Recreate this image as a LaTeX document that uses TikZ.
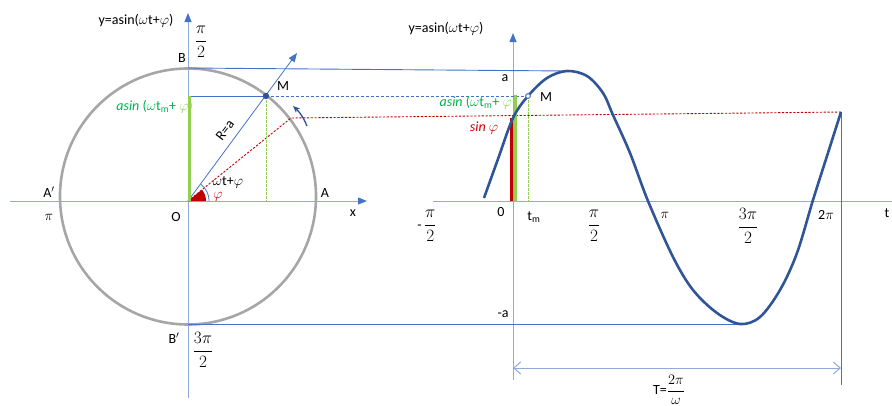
\documentclass[tikz,border=0pt]{standalone}
\usepackage{fontspec}
\setmainfont{Carlito}
\usetikzlibrary{arrows.meta}
\definecolor{axisblue}{HTML}{8FAADC}
\definecolor{lineblue}{HTML}{4472C4}
\definecolor{curveblue}{HTML}{2F5597}
\definecolor{circgray}{HTML}{A6A6A6}
\definecolor{darkred}{HTML}{C00000}
\definecolor{grtext}{HTML}{00B050}
\definecolor{ltgreen}{HTML}{92D050}
\newcommand{\bigfrac}[2]{{\fontsize{16}{18}\selectfont$\displaystyle\frac{#1}{#2}$}}
\begin{document}
\begin{tikzpicture}[x=1pt,y=-1pt,font=\fontsize{14}{16}\selectfont,
  axisline/.style={axisblue,line width=1pt},
  axisarrow/.style={-{Triangle[length=9pt,width=7pt,color=lineblue]}},
  thinblue/.style={lineblue,line width=0.9pt},
  reddash/.style={darkred,line width=0.9pt,dash pattern=on 2.2pt off 1.6pt},
  greendash/.style={ltgreen,line width=0.8pt,dash pattern=on 2.5pt off 1.5pt},
  lbl/.style={inner sep=0pt}]
\useasboundingbox (0,0) rectangle (892,405);
% ---------- key coordinates ----------
\coordinate (O) at (188,201);
\coordinate (Ytop) at (188,13);
\coordinate (Ybot) at (188,398);
\coordinate (Xl) at (10,201);
\coordinate (Xr) at (367,201);
\coordinate (B) at (188,68);
\coordinate (Bp) at (188,324);
\coordinate (M) at (266,96);
\coordinate (My) at (188,96);
\coordinate (Mx) at (266,201);
\coordinate (Rtip) at (297,53);
\coordinate (P) at (291,118);
\coordinate (O2) at (513,201);
\coordinate (Y2top) at (513,33);
\coordinate (Y2bot) at (513,380);
\coordinate (T2l) at (433,201);
\coordinate (T2r) at (892,201);
\coordinate (Peak) at (567,71);
\coordinate (Trough) at (740,324);
\coordinate (End) at (841,112);
\coordinate (EndBot) at (841,385);
\coordinate (M2) at (528,96);
\coordinate (M2x) at (528,202);
\coordinate (DimL) at (513,368);
\coordinate (DimR) at (841,368);
% ---------- axes ----------
\draw[axisline,axisarrow] (Ybot) -- (Ytop);
\draw[axisline,axisarrow] (Xl) -- (Xr);
\draw[axisline,axisarrow] (Y2bot) -- (Y2top);
\draw[axisline] (T2l) -- (T2r);
% ---------- circle ----------
\draw[circgray,line width=2.6pt] (188,196.5) circle[radius=128];
% ---------- projection lines ----------
\draw[thinblue] (B) -- (Peak);
\draw[lineblue,line width=0.8pt] (Bp) -- (Trough);
\draw[thinblue] (My) -- (M);
\draw[thinblue,dash pattern=on 3pt off 2pt] (M) -- (M2);
\draw[reddash] (O) -- (P) -- (End);
\draw[greendash] (M) -- (Mx);
\draw[greendash] (M2) -- (M2x);
\draw[lineblue,line width=0.8pt] (End) -- (EndBot);
% radius
\draw[lineblue,line width=0.8pt,-{Triangle[length=9pt,width=7pt]}] (O) -- (Rtip);
% angles
\fill[darkred] (O) -- plot[domain=0:39,samples=20] ({188+18*cos(\x)},{201-18*sin(\x)}) -- cycle;
\draw[lineblue,line width=0.8pt] plot[domain=0:53,samples=20] ({188+21*cos(\x)},{201-21*sin(\x)});
% rotation arrow
\draw[curveblue,line width=1.3pt,-{Stealth[length=7pt,width=6pt]}] (307,126) to[bend right=12] (293,106);
% bars
\node[lbl,anchor=east] (lblG2) at (512,103) {\textcolor{grtext}{\textit{asin} ($\omega$t\textsubscript{m}+} \textcolor{ltgreen}{$\varphi$}};
\draw[ltgreen,line width=3pt] (189.5,96) -- (189.5,201);
\draw[darkred,line width=3.4pt] (511.5,118) -- (511.5,201);
\draw[ltgreen,line width=3.4pt] (515.2,95) -- (515.2,201);
% ---------- sine curve ----------
\draw[curveblue,line width=2.6pt,line join=round] plot[smooth,tension=0.55] coordinates {
 (484,198) (498,159) (513,118) (528,96) (547,78) (567,71) (587,76) (603,93)
 (613,115) (630,153) (648,201) (673,257) (693,290) (717,313) (740,324)
 (760,317) (780,290) (797,253) (813,200) (827,156) (841,112)};
% points M
\fill[curveblue] (M) circle[radius=3.2];
\draw[lineblue,line width=1pt,fill=white] (M2) circle[radius=2.4];
% ---------- left labels ----------
\node[lbl] (ttl1) at (136,21) {y=asin($\omega$t+$\varphi$)};
\node[lbl] (pihalf1) at (201,42) {\bigfrac{\pi}{2}};
\node[lbl] (lB) at (182,58) {B};
\node[lbl] (lM) at (283,86) {M};
\node[lbl,anchor=east] (lblG1) at (193,107) {\textcolor{grtext}{\textit{asin} ($\omega$t\textsubscript{m}+} \textcolor{ltgreen}{$\varphi$)}};
\node[lbl,rotate=53] (lR) at (225,130) {R=a};
\node[lbl] (lwt) at (228,182) {$\omega$t+$\varphi$};
\node[lbl,text=darkred] (lphi) at (218,197) {$\varphi$};
\node[lbl] (lAp) at (49,192) {A$'$};
\node[lbl] (lpi1) at (49,217) {$\pi$};
\node[lbl] (lO) at (176,217) {O};
\node[lbl] (lA) at (325,193) {A};
\node[lbl] (lx) at (353,213) {x};
\node[lbl] (lBp) at (174,338) {B$'$};
\node[lbl] (l3pi1) at (203,350) {\bigfrac{3\pi}{2}};
% ---------- right labels ----------
\node[lbl] (ttl2) at (446,29) {y=asin($\omega$t+$\varphi$)};
\node[lbl] (la) at (505,78) {a};
\node[lbl] (lM2) at (546,97) {M};
\node[lbl,text=darkred] (lsin) at (484,128) {\textit{sin} $\varphi$};
\node[lbl] (l0) at (501,212) {0};
\node[lbl] (ltm) at (534,217) {t\textsubscript{m}};
\node[lbl] (lmpi) at (427,226) {-\,\bigfrac{\pi}{2}};
\node[lbl] (lpi2) at (594,226) {\bigfrac{\pi}{2}};
\node[lbl] (lpi3) at (665,215) {$\pi$};
\node[lbl] (l3pi2) at (748,226) {\bigfrac{3\pi}{2}};
\node[lbl] (l2pi) at (826,215) {2$\pi$};
\node[lbl] (lt) at (887,213) {t};
\node[lbl] (lma) at (503,314) {-a};
% period
\draw[axisline,{Straight Barb[length=7pt,width=12pt]}-{Straight Barb[length=7pt,width=12pt]}] (DimL) -- (DimR);
\node[lbl] (lT) at (669,390) {T=$\displaystyle\frac{2\pi}{\omega}$};
\end{tikzpicture}
\end{document}
